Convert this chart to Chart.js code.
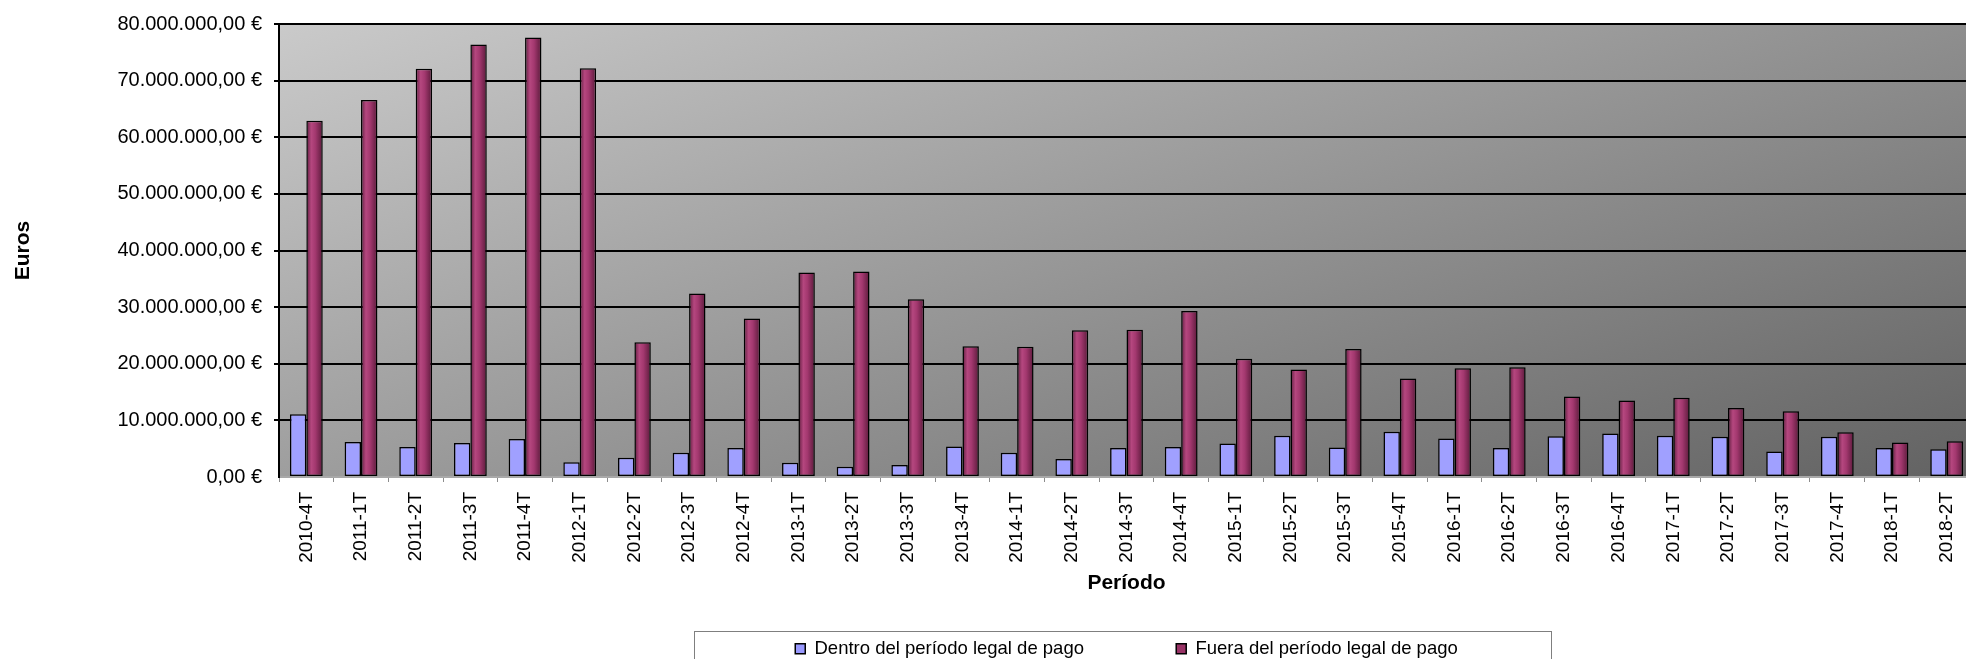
<!DOCTYPE html>
<html>
<head>
<meta charset="utf-8">
<script src="https://cdn.jsdelivr.net/npm/chart.js@4/dist/chart.umd.min.js"></script>
<style>
  html, body { margin: 0; padding: 0; background: #ffffff; overflow: hidden; width: 1966px; height: 659px; }
  #wrap { width: 1990px; height: 680px; position: absolute; left: 0; top: 0; }
</style>
</head>
<body>
<div id="wrap"><canvas id="c" width="1990" height="680"></canvas></div>
<script>
// ---- data ----
const categories = [
  '2010-4T',
  '2011-1T', '2011-2T', '2011-3T', '2011-4T',
  '2012-1T', '2012-2T', '2012-3T', '2012-4T',
  '2013-1T', '2013-2T', '2013-3T', '2013-4T',
  '2014-1T', '2014-2T', '2014-3T', '2014-4T',
  '2015-1T', '2015-2T', '2015-3T', '2015-4T',
  '2016-1T', '2016-2T', '2016-3T', '2016-4T',
  '2017-1T', '2017-2T', '2017-3T', '2017-4T',
  '2018-1T', '2018-2T'
];
const dentroValues = [
  11100000,
  6200000, 5300000, 6000000, 6700000,
  2600000, 3400000, 4300000, 5100000,
  2500000, 1800000, 2100000, 5400000,
  4300000, 3200000, 5100000, 5300000,
  5900000, 7300000, 5200000, 8000000,
  6800000, 5100000, 7200000, 7700000,
  7300000, 7100000, 4500000, 7100000,
  5100000, 4900000
];
const fueraValues = [
  62900000,
  66600000, 72100000, 76400000, 77600000,
  72200000, 23800000, 32400000, 28000000,
  36100000, 36300000, 31400000, 23100000,
  23000000, 25900000, 26000000, 29300000,
  20900000, 19000000, 22600000, 17400000,
  19200000, 19400000, 14200000, 13500000,
  14000000, 12200000, 11600000, 7900000,
  6100000, 6300000
];
const seriesNames = ['Dentro del período legal de pago', 'Fuera del período legal de pago'];
const yTickLabels = [
  '0,00 €', '10.000.000,00 €', '20.000.000,00 €', '30.000.000,00 €', '40.000.000,00 €',
  '50.000.000,00 €', '60.000.000,00 €', '70.000.000,00 €', '80.000.000,00 €'
];
const yAxisTitle = 'Euros';
const xAxisTitle = 'Período';

// ---- styles ----
const FONT = '"Liberation Sans", Arial, Helvetica, sans-serif';
const BLUE = '#a0a0ff';
const BLUE_LEGEND = '#9999ff';
const RED = '#993366';
const CAT_PCT = 0.6;
const BAR_PCT = 1.0;

function redFill(ctx) {
  const chart = ctx.chart;
  const xs = chart.scales && chart.scales.x;
  if (ctx.type !== 'data' || !xs || !isFinite(xs.left) || !isFinite(xs.right) || xs.right <= xs.left) return RED;
  const cw = (xs.right - xs.left) / categories.length;
  const bw = cw * CAT_PCT * BAR_PCT / 2;
  const c = xs.getPixelForValue(ctx.dataIndex);
  const g = chart.ctx.createLinearGradient(c, 0, c + bw, 0);
  g.addColorStop(0, '#5e1d3e');
  g.addColorStop(0.3, '#b5477f');
  g.addColorStop(0.55, '#a3386f');
  g.addColorStop(1, '#5a1a3a');
  return g;
}

const plotBackground = {
  id: 'plotBackground',
  beforeDraw(chart) {
    const { ctx, chartArea } = chart;
    if (!chartArea) return;
    const { left, top, right, bottom } = chartArea;
    ctx.save();
    const g = ctx.createLinearGradient(left, top, left + 343, top + 945);
    g.addColorStop(0, '#cacaca');
    g.addColorStop(1, '#626262');
    ctx.fillStyle = g;
    ctx.fillRect(left, top, right - left, bottom - top);
    ctx.restore();
  }
};

const legendFrame = {
  id: 'legendFrame',
  afterDraw(chart) {
    const lg = chart.legend;
    if (!lg || !lg.legendHitBoxes || !lg.legendHitBoxes.length) return;
    const hb = lg.legendHitBoxes;
    const first = hb[0], last = hb[hb.length - 1];
    const x0 = first.left - 101;
    const x1 = last.left + last.width + 94;
    const y0 = first.top - 9;
    const y1 = first.top + first.height + 30;
    const ctx = chart.ctx;
    ctx.save();
    ctx.strokeStyle = '#7f7f7f';
    ctx.lineWidth = 1;
    ctx.strokeRect(Math.round(x0) + 0.5, Math.round(y0) + 0.5, Math.round(x1 - x0), Math.round(y1 - y0));
    ctx.restore();
  }
};

const legendTexts = [seriesNames[0] + ' '.repeat(16), seriesNames[1]];

new Chart(document.getElementById('c'), {
  type: 'bar',
  data: {
    labels: categories,
    datasets: [
      {
        label: seriesNames[0],
        data: dentroValues,
        backgroundColor: BLUE,
        borderColor: '#000000',
        borderWidth: 1.5,
        borderSkipped: false,
        categoryPercentage: CAT_PCT,
        barPercentage: BAR_PCT
      },
      {
        label: seriesNames[1],
        data: fueraValues,
        backgroundColor: redFill,
        borderColor: '#000000',
        borderWidth: 1.5,
        borderSkipped: false,
        categoryPercentage: CAT_PCT,
        barPercentage: BAR_PCT
      }
    ]
  },
  options: {
    responsive: false,
    maintainAspectRatio: false,
    animation: false,
    devicePixelRatio: 1,
    layout: { padding: { top: 21, right: 16, bottom: 12, left: 0 } },
    scales: {
      x: {
        offset: true,
        grid: {
          display: true,
          drawOnChartArea: false,
          drawTicks: true,
          tickLength: 5,
          color: '#8c8c8c',
          lineWidth: 1,
          offset: true
        },
        border: { display: true, color: '#a8a8a8', width: 2 },
        ticks: {
          autoSkip: false,
          maxRotation: 90,
          minRotation: 90,
          padding: 10,
          color: '#000000',
          font: { family: FONT, size: 19 }
        },
        title: {
          display: true,
          text: xAxisTitle,
          color: '#000000',
          font: { family: FONT, size: 21, weight: 'bold' },
          padding: { top: 0, bottom: 34 }
        },
        afterFit(scale) { scale.height = 152.5; }
      },
      y: {
        min: 0,
        max: 80000000,
        ticks: {
          stepSize: 10000000,
          padding: 12,
          color: '#000000',
          font: { family: FONT, size: 20 },
          callback: (value, index) => yTickLabels[index]
        },
        grid: {
          color: (ctx) => (ctx.tick && ctx.tick.value === 0 ? 'rgba(0,0,0,0)' : '#000000'),
          lineWidth: 2,
          drawTicks: true,
          tickLength: 5
        },
        border: { display: true, color: '#000000', width: 2 },
        title: {
          display: true,
          text: yAxisTitle,
          color: '#000000',
          font: { family: FONT, size: 21, weight: 'bold' },
          padding: { top: 11, bottom: 0 }
        },
        afterFit(scale) { scale.width = 279; }
      }
    },
    plugins: {
      legend: {
        display: true,
        position: 'bottom',
        fullSize: false,
        labels: {
          boxWidth: 10,
          boxHeight: 10,
          padding: 10,
          color: '#000000',
          font: { family: FONT, size: 18.5 },
          generateLabels: () => [
            { text: legendTexts[0], fillStyle: BLUE_LEGEND, strokeStyle: '#000000', lineWidth: 1.5, hidden: false, datasetIndex: 0 },
            { text: legendTexts[1], fillStyle: RED, strokeStyle: '#000000', lineWidth: 1.5, hidden: false, datasetIndex: 1 }
          ]
        }
      },
      tooltip: { enabled: false }
    }
  },
  plugins: [plotBackground, legendFrame]
});
</script>
</body>
</html>
